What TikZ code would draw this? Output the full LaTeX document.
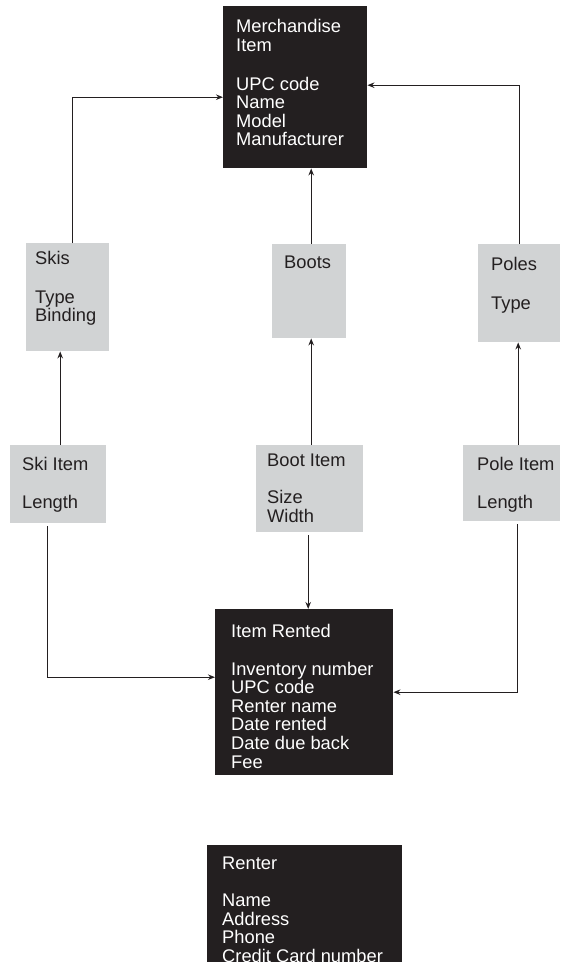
\documentclass[tikz,border=0pt]{standalone}
\usepackage{fontspec}
\setmainfont{Liberation Sans}
\usetikzlibrary{arrows.meta}
\definecolor{inkdark}{HTML}{231F20}
\definecolor{boxgray}{HTML}{D1D3D4}
\begin{document}
\begin{tikzpicture}[x=1pt,y=-1pt,
  darkbox/.style={draw=none,fill=inkdark,rectangle,inner sep=0pt,anchor=north west},
  graybox/.style={draw=none,fill=boxgray,rectangle,inner sep=0pt,anchor=north west},
  boxtext/.style={anchor=north west,inner sep=0pt,align=left,
    font=\fontsize{18.3}{18.6}\selectfont},
  lighttext/.style={boxtext,text=white},
  darktext/.style={boxtext,text=inkdark},
  conn/.style={draw=inkdark,line width=1.2pt,-{Stealth[length=7pt,width=5.5pt]}}]
\useasboundingbox (0,0) rectangle (560,971);

% entity boxes
\node[darkbox,minimum width=144pt,minimum height=162pt] (merch) at (223,6) {};
\node[graybox,minimum width=83pt,minimum height=108pt] (skis) at (26,243) {};
\node[graybox,minimum width=74pt,minimum height=94pt] (boots) at (272,244) {};
\node[graybox,minimum width=82pt,minimum height=98pt] (poles) at (478,244) {};
\node[graybox,minimum width=96pt,minimum height=78pt] (skiitem) at (10,445) {};
\node[graybox,minimum width=107pt,minimum height=87pt] (bootitem) at (256,445) {};
\node[graybox,minimum width=97pt,minimum height=76pt] (poleitem) at (463,445) {};
\node[darkbox,minimum width=178pt,minimum height=166pt] (rented) at (215,609) {};
\node[darkbox,minimum width=195pt,minimum height=117pt] (renter) at (207,845) {};

% box contents
\node[lighttext] (merch-t) at (236,19) {Merchandise\\Item\\[20.5pt]UPC code\\Name\\Model\\Manufacturer};
\node[darktext] (skis-t) at (35,251.5) {Skis\\[19.5pt]Type\\Binding};
\node[darktext] (boots-t) at (284,255.5) {Boots};
\node[darktext] (poles-t) at (491,257.5) {Poles\\[19.5pt]Type};
\node[darktext] (skiitem-t) at (22,457.5) {Ski Item\\[19pt]Length};
\node[darktext] (bootitem-t) at (267,453.5) {Boot Item\\[18.6pt]Size\\Width};
\node[darktext] (poleitem-t) at (477,457.5) {Pole Item\\[18.6pt]Length};
\node[lighttext] (rented-t) at (231,624.5) {Item Rented\\[18.6pt]Inventory number\\UPC code\\Renter name\\Date rented\\Date due back\\Fee};
\node[lighttext] (renter-t) at (222,856.5) {Renter\\[18.6pt]Name\\Address\\Phone\\Credit Card number};

% generalisation links up to Merchandise Item
\draw[conn] ([xshift=5pt]skis.north) |- ([yshift=-10pt]merch.west);
\draw[conn] ([xshift=2pt]boots.north) -- ([xshift=2pt]boots.north |- merch.south);
\draw[conn] (poles.north) |- ([yshift=2pt]merch.east);

% item links up to their kinds
\draw[conn] ([xshift=2pt]skiitem.north) -- ([xshift=2pt]skiitem.north |- skis.south);
\draw[conn] ([xshift=1.5pt]bootitem.north) -- ([xshift=1.5pt]bootitem.north |- boots.south);
\draw[conn] ([xshift=6.5pt]poleitem.north) -- ([xshift=6.5pt]poleitem.north |- poles.south);

% item links down to Item Rented
\draw[conn,shorten <=3pt] ([xshift=-11pt]skiitem.south) |- ([yshift=15pt]rented.west);
\draw[conn,shorten <=3pt] ([xshift=-1.5pt]bootitem.south) -- ([xshift=-1.5pt]bootitem.south |- rented.north);
\draw[conn,shorten <=3pt] ([xshift=5.5pt]poleitem.south) |- (rented.east);
\end{tikzpicture}
\end{document}
